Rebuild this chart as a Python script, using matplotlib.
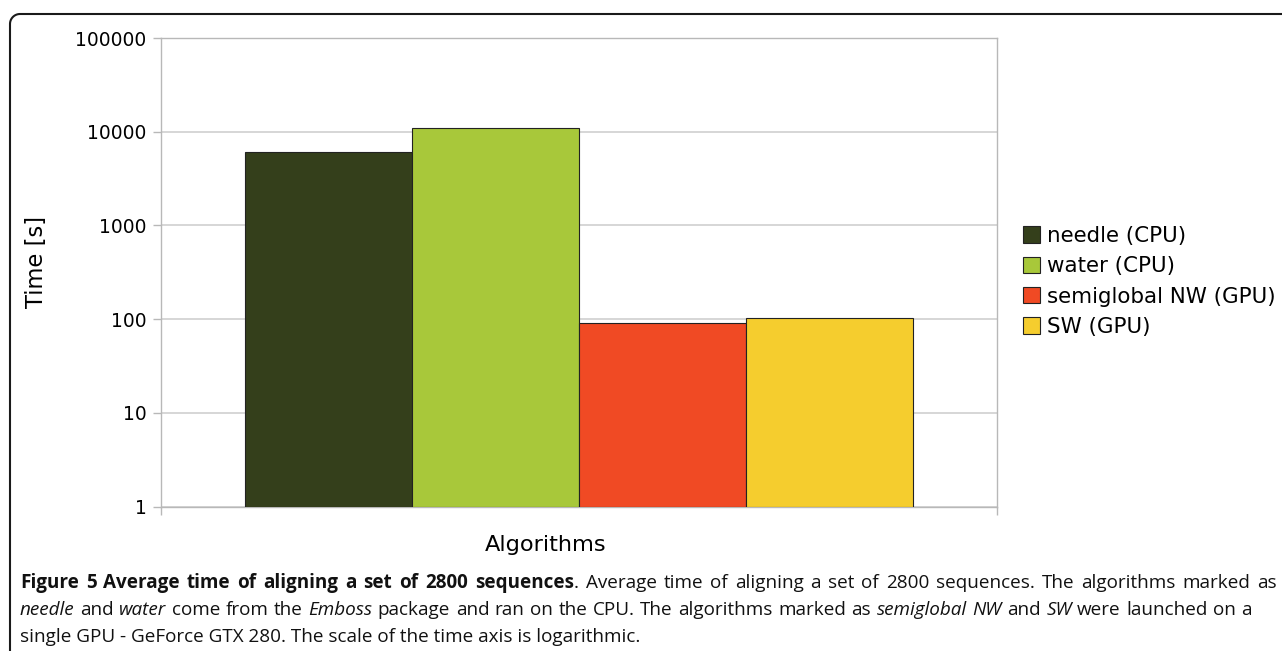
import numpy as np
import matplotlib
matplotlib.use('Agg')
import matplotlib.pyplot as plt
from matplotlib.lines import Line2D

# data (log scale, seconds)
algorithms = ['needle (CPU)', 'water (CPU)', 'semiglobal NW (GPU)', 'SW (GPU)']
times = [6100, 11000, 90, 101]
colors = ['#343f1b', '#a8c83a', '#f04a24', '#f5cd2e']
yticks = [1, 10, 100, 1000, 10000, 100000]

W, H = 1282, 651
fig = plt.figure(figsize=(W / 100, H / 100), dpi=100)
plt.rcParams['font.family'] = 'DejaVu Sans'

# plot area in pixel coords
left, right, top, bottom = 161, 997, 38, 506.5
ax = fig.add_axes([left / W, 1 - bottom / H, (right - left) / W, (bottom - top) / H])

pos = np.arange(len(times))
bars = ax.bar(pos, times, width=1.0, bottom=1, color=colors,
              edgecolor='#222222', linewidth=0.8, zorder=3)
ax.set_yscale('log')
ax.set_ylim(1, 100000)
ax.set_xlim(-1, len(times))
ax.set_yticks(yticks)
ax.set_yticklabels([str(v) for v in yticks])
ax.minorticks_off()
ax.set_xticks([-1, len(times)])
ax.set_xticklabels(['', ''])
ax.grid(axis='y', color='#cccccc', linewidth=1.1, zorder=0)
for s in ax.spines.values():
    s.set_color('#b8b8b8')
    s.set_linewidth(1.0)
ax.tick_params(axis='both', color='#b8b8b8', length=6, width=1.0,
               labelsize=13.4, pad=4.3)

fig.text(36.5 / W, 1 - 261.5 / H, 'Time [s]', rotation=90, fontsize=16.3,
         ha='center', va='center')
fig.text(546 / W, 1 - 545 / H, 'Algorithms', fontsize=16.2,
         ha='center', va='center')

leg = ax.legend(bars, algorithms, loc='center left',
                bbox_to_anchor=(1023 / W, 1 - 281.5 / H),
                bbox_transform=fig.transFigure, frameon=False,
                fontsize=15.4, borderpad=0, borderaxespad=0,
                handlelength=0.8, handleheight=0.8, handletextpad=0.33,
                labelspacing=0.48)

# frame around figure + caption (rounded top-left corner)
r = 10
th = np.linspace(np.pi, np.pi / 2, 20)
bx = np.concatenate([[10], 10 + r + r * np.cos(th), [W]])
by = np.concatenate([[H], 14 + r - r * np.sin(th), [14]])
fig.add_artist(Line2D(bx / W, 1 - by / H, transform=fig.transFigure,
                      color='#1a1a1a', linewidth=1.5))

# caption
cap_font = 'Open Sans'
cap_size = 13.6
styles = {'n': dict(), 'b': dict(weight='bold'), 'i': dict(style='italic')}
line1 = [('Figure 5 Average time of aligning a set of 2800 sequences', 'b'),
         ('. Average time of aligning a set of 2800 sequences. The algorithms marked as', 'n')]
line2 = [('needle', 'i'), (' and ', 'n'), ('water', 'i'), (' come from the ', 'n'),
         ('Emboss', 'i'), (' package and ran on the CPU. The algorithms marked as ', 'n'),
         ('semiglobal NW', 'i'), (' and ', 'n'), ('SW', 'i'), (' were launched on a', 'n')]
line3 = 'single GPU - GeForce GTX 280. The scale of the time axis is logarithmic.'

renderer = fig.canvas.get_renderer()


def split_words(pieces):
    words = [[]]
    for txt, st in pieces:
        parts = txt.split(' ')
        for k, p in enumerate(parts):
            if k > 0:
                words.append([])
            if p:
                words[-1].append((p, st))
    return [w for w in words if w]


def justified(pieces, y, x0, x1):
    words = split_words(pieces)
    arts = []
    widths = []
    for w in words:
        wa = []
        ww = 0
        for p, st in w:
            t = fig.text(0, 0, p, fontsize=cap_size, family=cap_font,
                         va='baseline', color='#111111', **styles[st])
            pw = t.get_window_extent(renderer).width
            wa.append((t, pw))
            ww += pw
        arts.append(wa)
        widths.append(ww)
    gap = (x1 - x0 - sum(widths)) / (len(words) - 1)
    x = x0
    for wa, ww in zip(arts, widths):
        xx = x
        for t, pw in wa:
            t.set_position((xx / W, 1 - y / H))
            xx += pw
        x += ww + gap


justified(line1, 588, 20, 1277)
justified(line2, 615, 20, 1252)
fig.text(20 / W, 1 - 642 / H, line3, fontsize=cap_size, family=cap_font,
         va='baseline', color='#111111')

fig.savefig('out.png', dpi=100)
